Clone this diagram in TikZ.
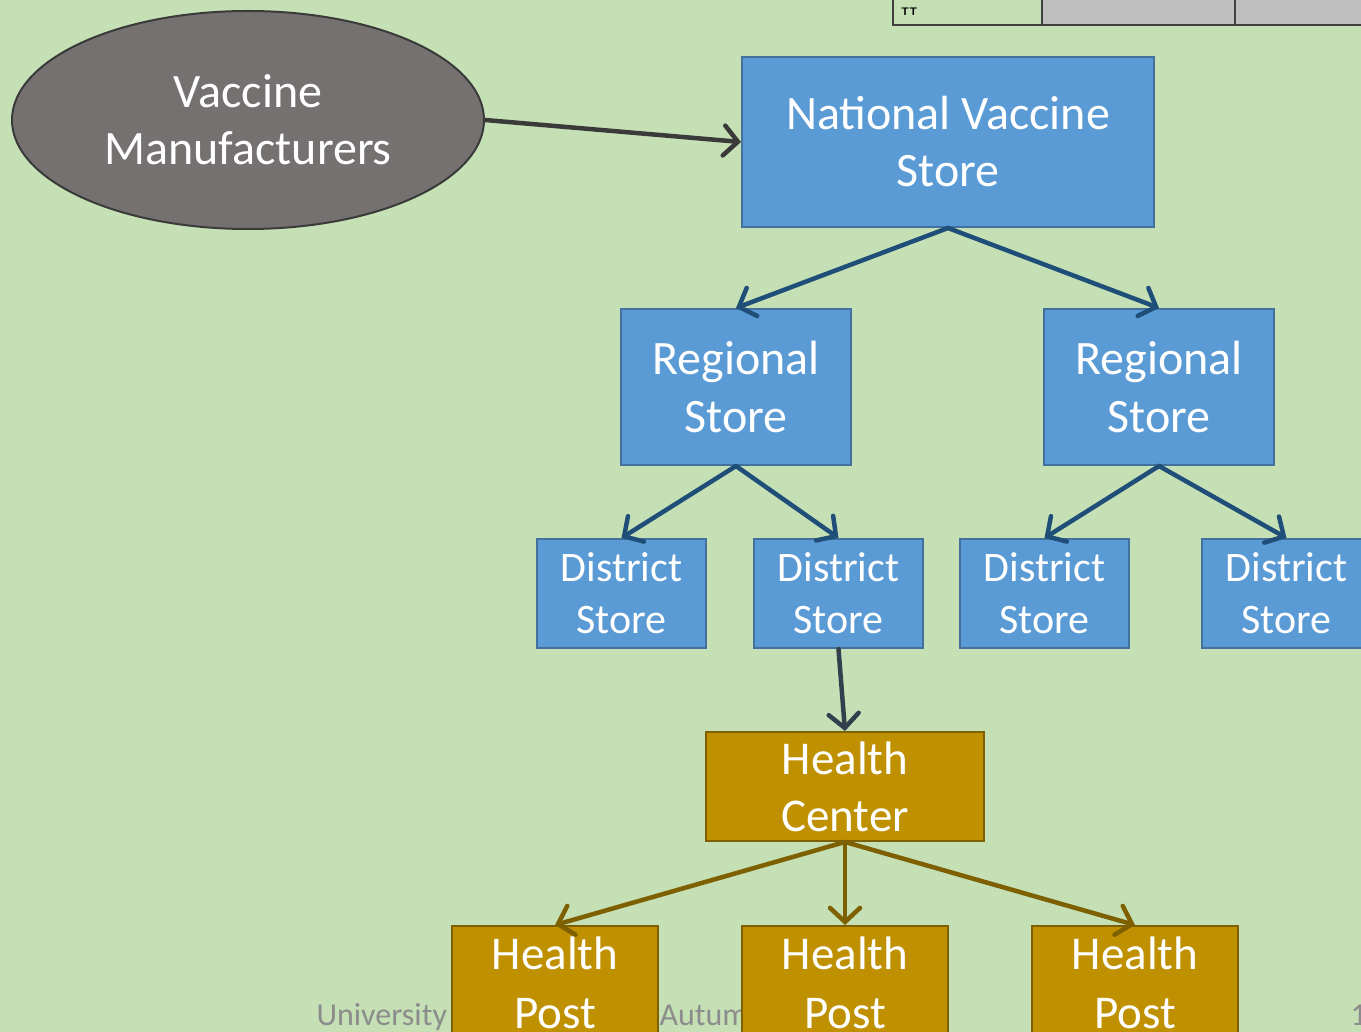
\documentclass[tikz,border=0pt]{standalone}
\usepackage{fontspec}
\setmainfont{Carlito}
\usetikzlibrary{arrows.meta,shapes.geometric}
\definecolor{slidebg}{HTML}{C5E0B4}
\definecolor{storefill}{HTML}{5B9BD5}
\definecolor{storeline}{HTML}{41719C}
\definecolor{storearrow}{HTML}{1F4E79}
\definecolor{healthfill}{HTML}{BF9000}
\definecolor{healthline}{HTML}{7F6000}
\definecolor{makerfill}{HTML}{757170}
\definecolor{makerline}{HTML}{3A3A3A}
\definecolor{footgray}{HTML}{8C8C8C}
\begin{document}
\begin{tikzpicture}[x=1pt, y=-1pt,
	store/.style={rectangle, fill=storefill, draw=storeline, line width=2pt, text=white, align=center, inner sep=0pt},
	health/.style={rectangle, fill=healthfill, draw=healthline, line width=2pt, text=white, align=center, inner sep=0pt},
	link/.style={-{Straight Barb[length=14pt, width=30pt, line cap=round]}, line width=4.5pt, line cap=round},
	cell/.style={rectangle, draw=black!75, line width=1.5pt, inner sep=0pt, minimum height=32pt}]
	\clip (0,0) rectangle (1361,1032);
	\fill[slidebg] (0,0) rectangle (1361,1032);

	\node[font=\fontsize{32}{38}\selectfont, text=footgray, anchor=base west](footUni) at (313,1025){University};
	\node[font=\fontsize{32}{38}\selectfont, text=footgray, anchor=base west](footTerm) at (656,1025){Autum};
	\node[font=\fontsize{32}{38}\selectfont, text=footgray, anchor=base west](footPage) at (1347,1025){1};

	\node[cell, fill=slidebg, minimum width=149pt](tabOne) at (967.5,9){};
	\node[cell, fill=black!25, minimum width=193pt](tabTwo) at (1138.5,9){};
	\node[cell, fill=black!25, minimum width=160pt](tabThree) at (1315,9){};
	\node[font=\sffamily\bfseries\fontsize{11}{13}\selectfont, anchor=west, inner sep=0pt](tabText) at (901,12){TT};

	\node[ellipse, fill=makerfill, draw=makerline, line width=2pt, minimum width=472pt, minimum height=218pt, text=white, align=center, font=\fontsize{48}{57}\selectfont](maker) at (248,120){Vaccine\\Manufacturers};

	\node[store, minimum width=412pt, minimum height=170pt, font=\fontsize{48}{57}\selectfont](national) at (948,142){National Vaccine\\Store};

	\node[store, minimum width=230pt, minimum height=156pt, font=\fontsize{48}{58}\selectfont](regionOne) at (736,387){Regional\\Store};
	\node[store, minimum width=230pt, minimum height=156pt, font=\fontsize{48}{58}\selectfont](regionTwo) at (1159,387){Regional\\Store};

	\node[store, minimum width=169pt, minimum height=109pt, font=\fontsize{42}{52}\selectfont](districtOne) at (621.5,593.5){District\\Store};
	\node[store, minimum width=169pt, minimum height=109pt, font=\fontsize{42}{52}\selectfont](districtTwo) at (838.5,593.5){District\\Store};
	\node[store, minimum width=169pt, minimum height=109pt, font=\fontsize{42}{52}\selectfont](districtThree) at (1044.5,593.5){District\\Store};
	\node[store, minimum width=169pt, minimum height=109pt, font=\fontsize{42}{52}\selectfont](districtFour) at (1286.5,593.5){District\\Store};

	\node[health, minimum width=278pt, minimum height=109pt, font=\fontsize{47}{57}\selectfont](center) at (845,786.5){Health\\Center};

	\node[health, minimum width=206pt, minimum height=114pt, font=\fontsize{47}{59}\selectfont](postOne) at (555,983){Health\\Post};
	\node[health, minimum width=206pt, minimum height=114pt, font=\fontsize{47}{59}\selectfont](postTwo) at (845,983){Health\\Post};
	\node[health, minimum width=206pt, minimum height=114pt, font=\fontsize{47}{59}\selectfont](postThree) at (1135,983){Health\\Post};

	\draw [link, color=makerline] (maker.east) -- (national.west);

	\draw [link, color=storearrow] (national.south) -- (regionOne.north);
	\draw [link, color=storearrow] (national.south) -- (regionTwo.north);
	\draw [link, color=storearrow] (regionOne.south) -- (districtOne.north);
	\draw [link, color=storearrow] (regionOne.south) -- (districtTwo.north);
	\draw [link, color=storearrow] (regionTwo.south) -- (districtThree.north);
	\draw [link, color=storearrow] (regionTwo.south) -- (districtFour.north);
	\draw [link, color=makerline!70!storearrow] (districtTwo.south) -- (center.north);

	\draw [link, color=healthline] (center.south) -- (postOne.north);
	\draw [link, color=healthline] (center.south) -- (postTwo.north);
	\draw [link, color=healthline] (center.south) -- (postThree.north);
\end{tikzpicture}
\end{document}
